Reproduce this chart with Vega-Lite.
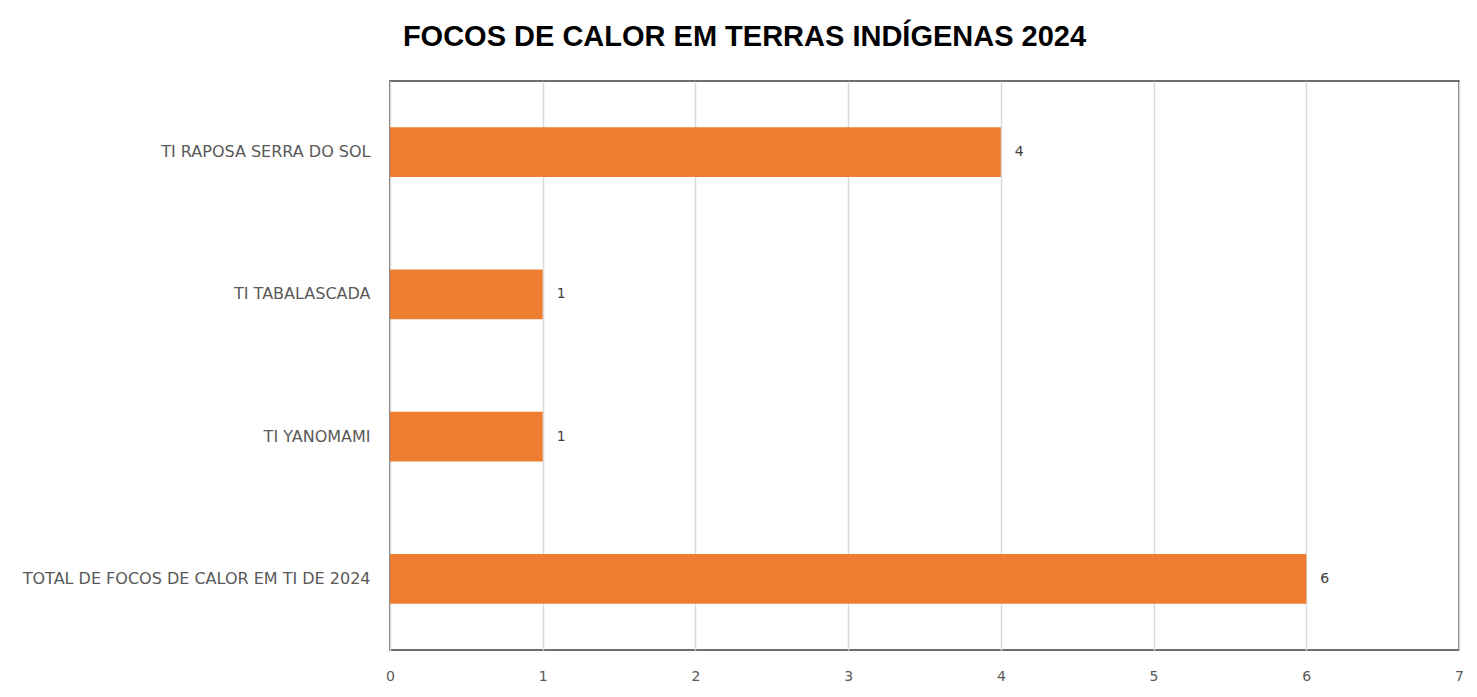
{
  "$schema": "https://vega.github.io/schema/vega-lite/v6.json",
  "width": 1069,
  "height": 569,
  "autosize": {"type": "none"},
  "padding": {"left": 390, "top": 81, "right": 18, "bottom": 47},
  "background": "white",
  "title": {
    "text": "FOCOS DE CALOR EM TERRAS INDÍGENAS 2024",
    "font": "Liberation Sans",
    "fontSize": 29,
    "fontWeight": "bold",
    "color": "#000000",
    "anchor": "middle",
    "dx": -180,
    "offset": 29
  },
  "data": {
    "values": [
      {"terra": "TI RAPOSA SERRA DO SOL", "focos": 4},
      {"terra": "TI TABALASCADA", "focos": 1},
      {"terra": "TI YANOMAMI", "focos": 1},
      {"terra": "TOTAL DE FOCOS DE CALOR EM TI DE 2024", "focos": 6}
    ]
  },
  "encoding": {
    "y": {
      "field": "terra",
      "type": "nominal",
      "sort": null,
      "title": null,
      "scale": {"paddingInner": 0.65, "paddingOuter": 0.325},
      "axis": {
        "domain": false,
        "ticks": false,
        "grid": false,
        "labelFont": "DejaVu Sans",
        "labelFontSize": 16,
        "labelColor": "#595959",
        "labelPadding": 20,
        "labelLimit": 400
      }
    },
    "x": {
      "field": "focos",
      "type": "quantitative",
      "title": null,
      "scale": {"domain": [0, 7], "nice": false},
      "axis": {
        "values": [0, 1, 2, 3, 4, 5, 6, 7],
        "domain": false,
        "ticks": false,
        "grid": true,
        "gridColor": "#d9d9d9",
        "gridWidth": 1.5,
        "labelFlush": false,
        "labelFont": "DejaVu Sans",
        "labelFontSize": 14,
        "labelColor": "#595959",
        "labelPadding": 19
      }
    }
  },
  "layer": [
    {"mark": {"type": "bar", "color": "#ED7D31"}},
    {
      "mark": {
        "type": "text",
        "align": "left",
        "dx": 14,
        "font": "DejaVu Sans",
        "fontSize": 14,
        "color": "#404040"
      },
      "encoding": {"text": {"field": "focos", "type": "quantitative"}}
    }
  ],
  "config": {
    "view": {"stroke": "#404040", "strokeWidth": 1.5}
  }
}
